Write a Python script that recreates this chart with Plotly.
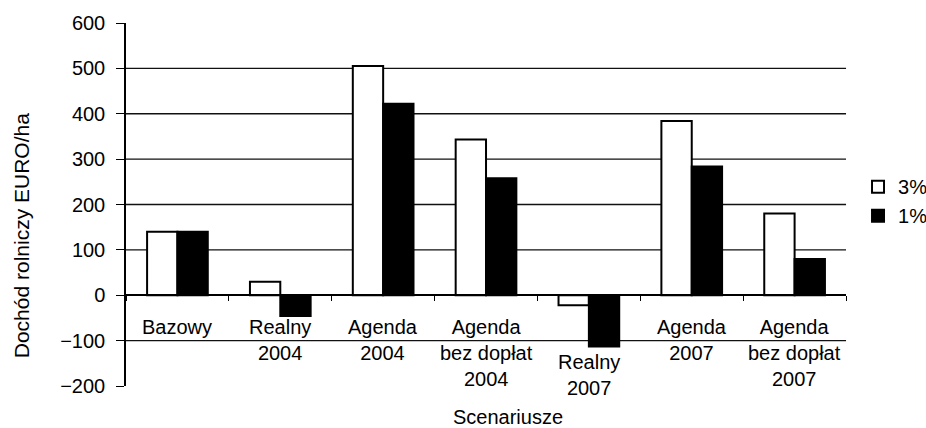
import plotly.graph_objects as go

# Scenario categories (x axis) and farm income per hectare for two rates
categories = [
    "Bazowy",
    "Realny<br>2004",
    "Agenda<br>2004",
    "Agenda<br>bez dopłat<br>2004",
    "Realny<br>2007",
    "Agenda<br>2007",
    "Agenda<br>bez dopłat<br>2007",
]
income_3pct = [140, 30, 505, 343, -22, 384, 180]
income_1pct = [140, -46, 422, 258, -113, 284, 80]

y_ticks = [-200, -100, 0, 100, 200, 300, 400, 500, 600]
grid_levels = [-100, 100, 200, 300, 400, 500]

FONT = "Arial, Liberation Sans, sans-serif"

fig = go.Figure()
fig.add_trace(go.Bar(
    x=categories, y=income_3pct, name="3%",
    marker=dict(color="white", line=dict(color="black", width=2)),
))
fig.add_trace(go.Bar(
    x=categories, y=income_1pct, name="1%",
    marker=dict(color="black", line=dict(color="black", width=2)),
))

# horizontal gridlines (none at the top/bottom of the range)
shapes = [
    dict(type="line", xref="paper", x0=0, x1=1, yref="y", y0=g, y1=g,
         line=dict(color="#111", width=1.3), layer="below")
    for g in grid_levels
]

# category labels hang below the zero line; the deep negative bar pushes its label lower
annotations = []
for cat, v3, v1 in zip(categories, income_3pct, income_1pct):
    low = min(v3, v1)
    shift = -19 if low > -60 else -54
    annotations.append(dict(
        x=cat, y=0, xref="x", yref="y", text=cat, showarrow=False,
        yanchor="top", yshift=shift, font=dict(family=FONT, size=20, color="black"),
    ))

annotations.append(dict(
    text="Scenariusze", xref="paper", yref="paper", x=0.53, y=-0.085,
    xanchor="center", yanchor="middle",
    showarrow=False, font=dict(family=FONT, size=20, color="black"),
))
annotations.append(dict(
    text="Dochód rolniczy EURO/ha", xref="paper", yref="paper", x=-0.146, y=0.415,
    xanchor="center", yanchor="middle",
    textangle=-90, showarrow=False, font=dict(family=FONT, size=21, color="black"),
))

fig.update_layout(
    width=926, height=428,
    margin=dict(l=126, r=76, t=20, b=42),
    paper_bgcolor="white", plot_bgcolor="white",
    barmode="group", bargap=0.41, bargroupgap=0,
    font=dict(family=FONT, size=20, color="black"),
    shapes=shapes,
    annotations=annotations,
    legend=dict(
        xref="container", yref="container",
        x=0.9266, y=0.53, xanchor="left", yanchor="middle",
        font=dict(family=FONT, size=20, color="black"),
        itemwidth=30, bgcolor="rgba(0,0,0,0)",
    ),
    xaxis=dict(
        type="category", anchor="free", position=0.25,
        showline=True, linecolor="black", linewidth=1.5,
        ticks="outside", tickson="boundaries", ticklen=5, tickcolor="black",
        showticklabels=False, showgrid=False, zeroline=False,
    ),
    yaxis=dict(
        range=[-200, 600], tickvals=y_ticks,
        showline=True, linecolor="black", linewidth=1.5,
        ticks="outside", ticklen=8, tickcolor="black", ticklabelstandoff=7,
        showgrid=False, zeroline=False,
        tickfont=dict(family=FONT, size=20, color="black"),
    ),
)

fig.write_html("out.html")
